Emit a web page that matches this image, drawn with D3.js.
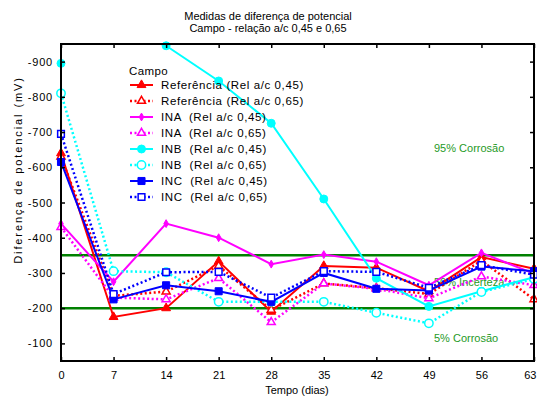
<!DOCTYPE html>
<html>
<head>
<meta charset="utf-8">
<script src="https://cdn.jsdelivr.net/npm/d3@7"></script>
<style>
  body { margin: 0; background: #fff; }
  svg { display: block; font-family: "Liberation Sans", Arial, sans-serif; }
</style>
</head>
<body>
<div id="chart"></div>
<script>
const days = [0, 7, 14, 21, 28, 35, 42, 49, 56, 63];
const refA = [-640, -175, -200, -333, -190, -320, -315, -248, -345, -312];
const refB = [-630, -235, -247, -320, -195, -270, -257, -240, -335, -225];
const inaA = [-440, -275, -440, -400, -325, -352, -332, -265, -357, -298];
const inaB = [-430, -230, -225, -285, -160, -270, -255, -228, -290, -265];
const inbA = [-895, null, -945, -845, -725, -510, -285, -205, -248, -288];
const inbB = [-810, -305, -302, -218, -218, -218, -187, -157, -246, -283];
const incA = [-615, -225, -265, -248, -218, -300, -255, -250, -318, -305];
const incB = [-695, -240, -302, -303, -230, -305, -303, -258, -322, -295];
const yTicks = [-100, -200, -300, -400, -500, -600, -700, -800, -900];
const limits = [-350, -200];
const limitLabels = [
  { text: "95% Corrosão", v: -655 },
  { text: "50% Incerteza", v: -275 },
  { text: "5% Corrosão", v: -115 },
];

const series = [
  { name: "Referência (Rel a/c 0,45)", values: refA, color: "#ff0000", dash: null, symbol: d3.symbolTriangle, size: 34, open: false },
  { name: "Referência (Rel a/c 0,65)", values: refB, color: "#ff0000", dash: "2,2.5", symbol: d3.symbolTriangle, size: 28, open: true },
  { name: "INA  (Rel a/c 0,45)", values: inaA, color: "#ff00ff", dash: null, symbol: d3.symbolDiamond, size: 18, open: false },
  { name: "INA  (Rel a/c 0,65)", values: inaB, color: "#ff00ff", dash: "2,2.5", symbol: d3.symbolTriangle, size: 28, open: true },
  { name: "INB  (Rel a/c 0,45)", values: inbA, color: "#00ffff", dash: null, symbol: d3.symbolCircle, size: 50, open: false },
  { name: "INB  (Rel a/c 0,65)", values: inbB, color: "#00ffff", dash: "2,2.5", symbol: d3.symbolCircle, size: 55, open: true },
  { name: "INC  (Rel a/c 0,45)", values: incA, color: "#0000ff", dash: null, symbol: d3.symbolSquare, size: 50, open: false },
  { name: "INC  (Rel a/c 0,65)", values: incB, color: "#0000ff", dash: "2,2.5", symbol: d3.symbolSquare, size: 45, open: true },
];

const W = 537, H = 396;
const M = { left: 61, right: 3, top: 44, bottom: 35 };

const svg = d3.select("#chart")
  .append("svg")
  .attr("width", W)
  .attr("height", H);

const x = d3.scaleLinear().domain([0, 63]).range([M.left, W - M.right]);
const y = d3.scaleLinear().domain([-50, -950]).range([H - M.bottom, M.top]);

// title
const title = svg.append("g").attr("font-size", 11).attr("text-anchor", "middle").attr("fill", "#000");
title.append("text").attr("x", 268).attr("y", 20).text("Medidas de diferença de potencial");
title.append("text").attr("x", 268).attr("y", 32).text("Campo - relação a/c 0,45 e 0,65");

// limit lines
svg.append("g")
  .selectAll("line")
  .data(limits)
  .join("line")
  .attr("x1", M.left)
  .attr("x2", W - M.right)
  .attr("y1", d => y(d))
  .attr("y2", d => y(d))
  .attr("stroke", "#008000")
  .attr("stroke-width", 2.5);

svg.append("g")
  .attr("font-size", 11)
  .attr("fill", "#1f9a1f")
  .selectAll("text")
  .data(limitLabels)
  .join("text")
  .attr("x", 434)
  .attr("y", d => y(d.v) + 4)
  .text(d => d.text);

// series
const line = d3.line()
  .defined(d => d.v !== null)
  .x(d => x(d.t))
  .y(d => y(d.v));

const symbolGenerator = d3.symbol();

const seriesGroups = svg.append("g")
  .selectAll("g")
  .data(series)
  .join("g");

seriesGroups.append("path")
  .attr("fill", "none")
  .attr("stroke", d => d.color)
  .attr("stroke-width", d => d.dash ? 2.5 : 2)
  .attr("stroke-dasharray", d => d.dash)
  .attr("d", d => line(days.map((t, i) => ({ t, v: d.values[i] }))));

seriesGroups.each(function (s) {
  d3.select(this)
    .selectAll("path.mark")
    .data(days.map((t, i) => ({ t, v: s.values[i] })).filter(p => p.v !== null))
    .join("path")
    .attr("class", "mark")
    .attr("transform", p => `translate(${x(p.t)},${y(p.v)})`)
    .attr("d", symbolGenerator.type(s.symbol).size(s.size)())
    .attr("fill", s.open ? "#fff" : s.color)
    .attr("stroke", s.color)
    .attr("stroke-width", s.open ? 1.5 : 1);
});

// axes
const xAxis = svg.append("g")
  .attr("transform", `translate(0,${H - M.bottom})`)
  .call(d3.axisBottom(x).tickValues(days).tickSize(-4).tickPadding(10).tickFormat(d3.format("d")));
const xTop = svg.append("g")
  .attr("transform", `translate(0,${M.top})`)
  .call(d3.axisTop(x).tickValues(days).tickSize(-4).tickFormat(""));
const yAxis = svg.append("g")
  .attr("transform", `translate(${M.left},0)`)
  .call(d3.axisLeft(y).tickValues(yTicks).tickSize(-4).tickPadding(8).tickFormat(d => String(d)));
const yRight = svg.append("g")
  .attr("transform", `translate(${W - M.right},0)`)
  .call(d3.axisRight(y).tickValues(yTicks).tickSize(-4).tickFormat(""));

[xAxis, xTop, yAxis, yRight].forEach(g => {
  g.select(".domain").remove();
  g.selectAll(".tick line").attr("stroke", "#000").attr("stroke-width", 1.5);
  g.selectAll("text").attr("font-size", 11).attr("fill", "#000")
    .attr("font-family", "Liberation Sans, Arial, sans-serif");
});
yAxis.selectAll("text").attr("letter-spacing", 0.8);
// last label would run past the page edge, keep it inside
xAxis.selectAll(".tick text").filter(d => d === 63).attr("text-anchor", "end").attr("dx", 2);

svg.append("rect")
  .attr("x", M.left)
  .attr("y", M.top)
  .attr("width", W - M.right - M.left)
  .attr("height", H - M.bottom - M.top)
  .attr("fill", "none")
  .attr("stroke", "#000")
  .attr("stroke-width", 2);

// axis titles
svg.append("text")
  .attr("x", 297)
  .attr("y", 394)
  .attr("text-anchor", "middle")
  .attr("font-size", 11)
  .text("Tempo (dias)");

svg.append("text")
  .attr("transform", "translate(22,170) rotate(-90)")
  .attr("text-anchor", "middle")
  .attr("font-size", 11)
  .attr("letter-spacing", 1.9)
  .text("Diferença de potencial (mV)");

// legend
const legend = svg.append("g").attr("font-size", 11.5);
legend.append("text")
  .attr("x", 129)
  .attr("y", 75)
  .attr("letter-spacing", 0.4)
  .text("Campo");

const legendItems = legend.selectAll("g.item")
  .data(series)
  .join("g")
  .attr("class", "item")
  .attr("transform", (d, i) => `translate(130,${85 + i * 16})`);

legendItems.append("line")
  .attr("x1", 0)
  .attr("x2", 23)
  .attr("stroke", d => d.color)
  .attr("stroke-width", d => d.dash ? 2.5 : 2)
  .attr("stroke-dasharray", d => d.dash);

legendItems.append("path")
  .attr("transform", "translate(11.5,0)")
  .attr("d", d => symbolGenerator.type(d.symbol).size(d.size)())
  .attr("fill", d => d.open ? "#fff" : d.color)
  .attr("stroke", d => d.color)
  .attr("stroke-width", d => d.open ? 1.5 : 1);

legendItems.append("text")
  .attr("x", 31)
  .attr("y", 4)
  .attr("letter-spacing", 0.6)
  .attr("xml:space", "preserve")
  .style("white-space", "pre")
  .text(d => d.name);
</script>
</body>
</html>
